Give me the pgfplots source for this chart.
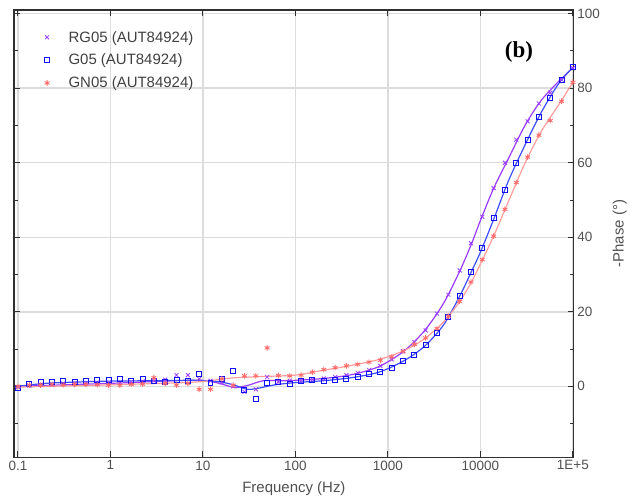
\documentclass[border=0pt]{standalone}
\usepackage{fontspec}
\setmainfont{Liberation Sans}
\newfontfamily\serifb{Liberation Serif}
\usepackage{pgfplots}
\usepackage{pgfplotstable}
\pgfplotsset{compat=1.18}
\definecolor{rgc}{HTML}{9A3CFF}
\definecolor{gc}{HTML}{1010F0}
\definecolor{gcl}{HTML}{3D4DFF}
\definecolor{gnc}{HTML}{FF6A6A}
\definecolor{gnl}{HTML}{FF9C9C}
\definecolor{tickc}{HTML}{505050}
\definecolor{gridc}{HTML}{DCDCDC}
\definecolor{framec}{HTML}{303030}

\pgfplotstableread{
f rg g gn
0.1 -0.2 -0.35 0.0
0.1326 0.2 0.5 0.3
0.1758 0.4 1.15 0.3
0.2330 0.5 1.15 0.5
0.3089 0.7 1.3 0.4
0.4095 0.8 1.15 0.5
0.5429 0.8 1.4 0.5
0.7197 0.9 1.7 0.4
0.9541 1.0 1.7 0.3
1.2649 1.0 2.0 0.3
1.6768 1.2 1.4 0.5
2.2230 1.3 2.0 0.6
2.9471 1.5 1.4 2.3
3.9069 1.8 1.15 0.8
5.1795 3.0 1.7 0.3
6.8664 3.0 1.4 0.8
9.1030 2.0 3.4 -0.8
12.068 1.5 1.0 -0.8
15.998 1.0 1.9 2.0
21.209 0.0 4.1 0.3
28.117 -1.5 -1.07 2.8
37.276 -0.8 -3.3 2.8
49.417 2.5 0.8 10.3
65.513 1.2 1.15 2.9
86.851 1.5 0.7 2.8
115.14 1.5 1.4 3.0
152.64 1.8 1.7 3.8
202.36 2.1 1.4 4.5
268.27 2.5 1.7 5.0
355.65 3.0 2.0 5.5
471.49 3.6 2.5 5.9
625.06 4.4 3.2 6.5
828.65 5.5 3.8 7.0
1098.6 7.2 5.0 7.9
1456.3 9.4 6.8 9.4
1930.7 11.9 8.5 11.2
2559.6 15.0 11.0 13.0
3393.2 19.5 14.2 15.5
4498.4 24.6 18.5 18.8
5963.6 31.1 24.2 22.8
7906.0 38.4 30.6 28.0
10481 45.5 37.0 34.0
13895 53.2 45.2 40.3
18421 60.0 52.7 47.5
24421 66.2 59.8 54.7
32375 71.1 66.0 61.5
42920 75.9 72.3 67.4
56899 78.8 77.4 71.3
75431 82.3 82.3 76.5
100000 85.4 85.6 81.6
}\datatable

\pgfplotstableread{
f y
0.1 0.0
1 0.8
5 1.5
10 1.6
15 0.8
22 -0.3
30 0.2
45 1.5
70 1.5
100 1.6
200 2.1
400 3.1
800 5.3
1500 9.5
2500 15.0
4000 22.3
6000 31.0
8000 38.2
10000 44.5
14000 53.3
20000 61.0
30000 69.8
45000 76.6
70000 81.8
100000 85.5
}\rgfit

\pgfplotstableread{
f y
0.1 0.0
0.2 0.8
0.5 1.2
1 1.4
3 1.5
8 1.6
15 1.2
22 0.3
30 -0.8
40 -0.5
60 0.4
100 1.0
200 1.5
400 2.3
800 3.8
1500 6.9
2500 10.8
4000 16.5
6000 24.3
8000 30.8
10000 36.0
14000 45.0
20000 55.0
30000 64.5
45000 73.3
70000 81.2
100000 85.6
}\gfit

\pgfplotstableread{
f y
0.1 -0.2
1 0.4
5 0.9
10 1.3
20 2.2
40 2.6
100 3.0
200 4.3
400 5.6
800 7.2
1500 9.6
2500 12.8
4000 17.3
6000 22.8
8000 28.0
10000 32.8
14000 40.5
20000 49.5
30000 59.6
45000 68.2
70000 75.5
100000 81.6
}\gnfit

\begin{document}
\begin{tikzpicture}
\begin{axis}[
  name=ax,
  scale only axis, width=561pt, height=448pt,
  xmode=log, xmin=0.0905, xmax=102500, ymin=-19, ymax=101,
  xtick={0.1,1,10,100,1000,10000,100000},
  xticklabels={0.1,1,10,100,1000,10000,1E+5},
  xminorticks=false,
  ytick={0,20,40,60,80,100}, minor ytick={-10,10,30,50,70,90},
  yticklabel pos=right,
  tick align=inside,
  major tick length=6pt, minor tick length=4pt,
  grid=major, major grid style={gridc, line width=1.5pt},
  axis line style={framec, line width=1.2pt},
  tick style={framec, line width=1pt},
  ticklabel style={font=\fontsize{13.5}{15}\selectfont, text=tickc},
  /pgf/number format/assume math mode=true,
  xlabel={Frequency (Hz)}, ylabel={-Phase (°)},
  label style={font=\fontsize{15}{17}\selectfont, text=tickc},
  xlabel style={yshift=-5pt},
  ylabel style={yshift=-6pt},
  legend style={draw=none, fill=none, at={(0.049,0.962)}, anchor=north west,
    font=\fontsize{15}{17}\selectfont, row sep=6.5pt, text=tickc!80!black,
    /tikz/every odd column/.append style={column sep=17pt}},
  legend cell align=left,
]
\addplot[rgc, line width=1.2pt, smooth, forget plot] table[x=f, y=y] {\rgfit};
\addplot[gcl, line width=1.2pt, smooth, forget plot] table[x=f, y=y] {\gfit};
\addplot[gnl, line width=1.2pt, smooth, forget plot] table[x=f, y=y] {\gnfit};
\addplot[only marks, mark=x, rgc, mark size=2.8pt, line width=0.8pt] table[x=f, y=rg] {\datatable};
\addlegendentry{RG05 (AUT84924)}
\addplot[only marks, mark=square, gc, mark size=2.5pt, line width=1pt] table[x=f, y=g] {\datatable};
\addlegendentry{G05 (AUT84924)}
\addplot[only marks, mark=asterisk, gnc, mark size=2.8pt, line width=0.9pt] table[x=f, y=gn] {\datatable};
\addlegendentry{GN05 (AUT84924)}
\node at (rel axis cs:0.902,0.906) {\serifb\bfseries\fontsize{23}{26}\selectfont (b)};
\end{axis}
\path (ax.north west) ++(-14pt,10pt);
\end{tikzpicture}
\end{document}
